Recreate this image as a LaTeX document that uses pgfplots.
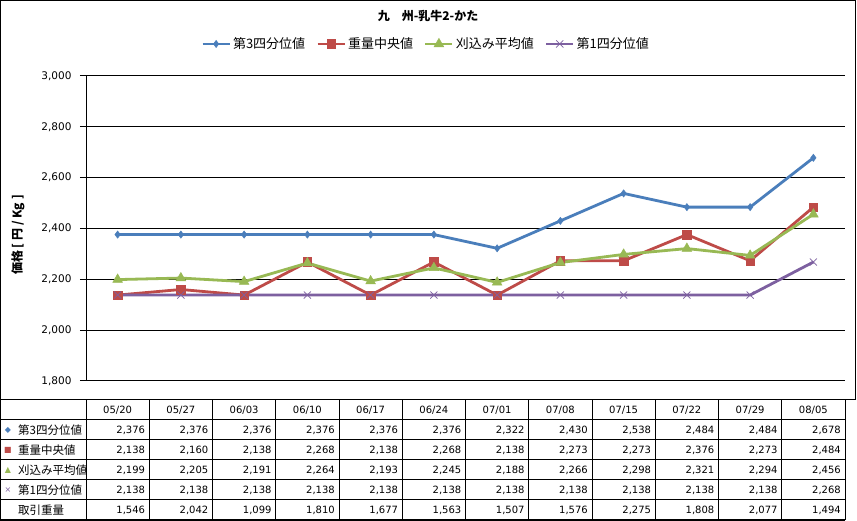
\documentclass[border=0pt]{standalone}
\usepackage{pgfplots}
\pgfplotsset{compat=1.18}
\usepackage{pgfplotstable}
\usepackage{fontspec}
\setmainfont{DejaVu Sans}
\newfontfamily\jp{Noto Sans CJK JP}
\definecolor{xblue}{HTML}{4A7EBB}
\definecolor{xred}{HTML}{BE4B48}
\definecolor{xgreen}{HTML}{98B954}
\definecolor{xpurple}{HTML}{7D60A0}
\pgfkeys{/pgf/number format/.cd,1000 sep={,},assume math mode=true}

\pgfplotstableread{
x q3 med trim q1 vol
0 2376 2138 2199 2138 1546
1 2376 2160 2205 2138 2042
2 2376 2138 2191 2138 1099
3 2376 2268 2264 2138 1810
4 2376 2138 2193 2138 1677
5 2376 2268 2245 2138 1563
6 2322 2138 2188 2138 1507
7 2430 2273 2266 2138 1576
8 2538 2273 2298 2138 2275
9 2484 2376 2321 2138 1808
10 2484 2273 2294 2138 2077
11 2678 2484 2456 2268 1494
}\datatable

\begin{document}
\begin{tikzpicture}[x=1pt,y=1pt]
\fill[white] (0,0) rectangle (857,521);
\useasboundingbox (0,0) rectangle (857,521);

\begin{axis}[
  at={(86pt,140pt)}, anchor=south west,
  width=759pt, height=305pt, scale only axis,
  xmin=-0.5, xmax=11.5, ymin=1800, ymax=3000,
  xtick=\empty, ytick={1800,2000,...,3000},
  axis lines*=left, axis line style={black, line width=1pt, -},
  ymajorgrids, grid style={black, line width=1pt},
  tick align=outside, major tick length=6pt,
  tick style={black, line width=1pt},
  yticklabel style={font=\fontsize{10.5}{12}\selectfont, anchor=east, xshift=-5pt},
  clip=false,
  legend columns=4,
  legend style={at={(0.448,1.105)}, anchor=center, draw=none, fill=none,
    font=\jp\fontsize{13}{15}\selectfont,
    /tikz/every even column/.append style={column sep=9pt},
    cells={anchor=west}},
  legend image code/.code={\draw[mark repeat=2,mark phase=2,#1] plot coordinates {(0pt,0pt) (13.5pt,0pt) (27pt,0pt)};},
]
\addplot[color=xblue, line width=2.8pt, mark=diamond*, mark size=3.6pt,
  mark options={solid, fill=xblue, line width=0.5pt}] table[x=x,y=q3]{\datatable};
\addlegendentry{第3四分位値}
\addplot[color=xred, line width=2.8pt, mark=square*, mark size=4.3pt,
  mark options={solid, fill=xred, line width=0.5pt}] table[x=x,y=med]{\datatable};
\addlegendentry{重量中央値}
\addplot[color=xgreen, line width=2.8pt, mark=triangle*, mark size=5.6pt,
  mark options={solid, fill=xgreen, line width=0.5pt}] table[x=x,y=trim]{\datatable};
\addlegendentry{刈込み平均値}
\addplot[color=xpurple, line width=2.8pt, mark=x, mark size=5pt,
  mark options={solid, line width=0.7pt}] table[x=x,y=q1]{\datatable};
\addlegendentry{第1四分位値}
\end{axis}

% title and y label
\node[font=\jp\bfseries\fontsize{12}{14}\selectfont] at (428,505) {九　州-乳牛2-かた};
\node[font=\jp\bfseries\fontsize{12}{14}\selectfont, rotate=90] at (18,286) {価格 [ 円 / Kg ]};

% outer border
\draw[black, line width=1pt] (845,0.5) -- (0.5,0.5) -- (0.5,520.5) -- (855.5,520.5) -- (855.5,121) -- (845,121);

% data table grid
\foreach \yy in {121,101,81,61,41,21,1} {\draw[black, line width=1pt] (0.5,\yy) -- (845,\yy);}
\foreach \k in {0,...,12} {\draw[black, line width=1pt] ({86+63.25*\k},121) -- ({86+63.25*\k},1);}

% header
\foreach \d [count=\i from 0] in {05/20,05/27,06/03,06/10,06/17,06/24,07/01,07/08,07/15,07/22,07/29,08/05}
  {\node[font=\fontsize{10}{12}\selectfont] at ({86+63.25*(\i+0.5)},111) {\d};}

% values
\foreach \r/\col in {0/q3,1/med,2/trim,3/q1,4/vol} {
  \foreach \i in {0,...,11} {
    \pgfplotstablegetelem{\i}{\col}\of\datatable
    \node[anchor=east, inner sep=0pt, font=\fontsize{10}{12}\selectfont] at ({86+63.25*(\i+1)-4},{91-20*\r}) {\pgfmathprintnumber{\pgfplotsretval}};
  }
}

% row headers
\node[text=xblue, font=\fontsize{8}{9}\selectfont] at (8,91) {◆};
\node[text=xred, font=\fontsize{8}{9}\selectfont] at (8,71) {■};
\node[text=xgreen, font=\fontsize{8}{9}\selectfont] at (8,51) {▲};
\node[text=xpurple, font=\fontsize{8}{9}\selectfont] at (8,31) {×};
\foreach \t/\yy in {第3四分位値/91,重量中央値/71,刈込み平均値/51,第1四分位値/31,取引重量/11}
  {\node[anchor=west, inner sep=0pt, font=\jp\fontsize{11.5}{13}\selectfont] at (18,\yy) {\t};}
\end{tikzpicture}
\end{document}
